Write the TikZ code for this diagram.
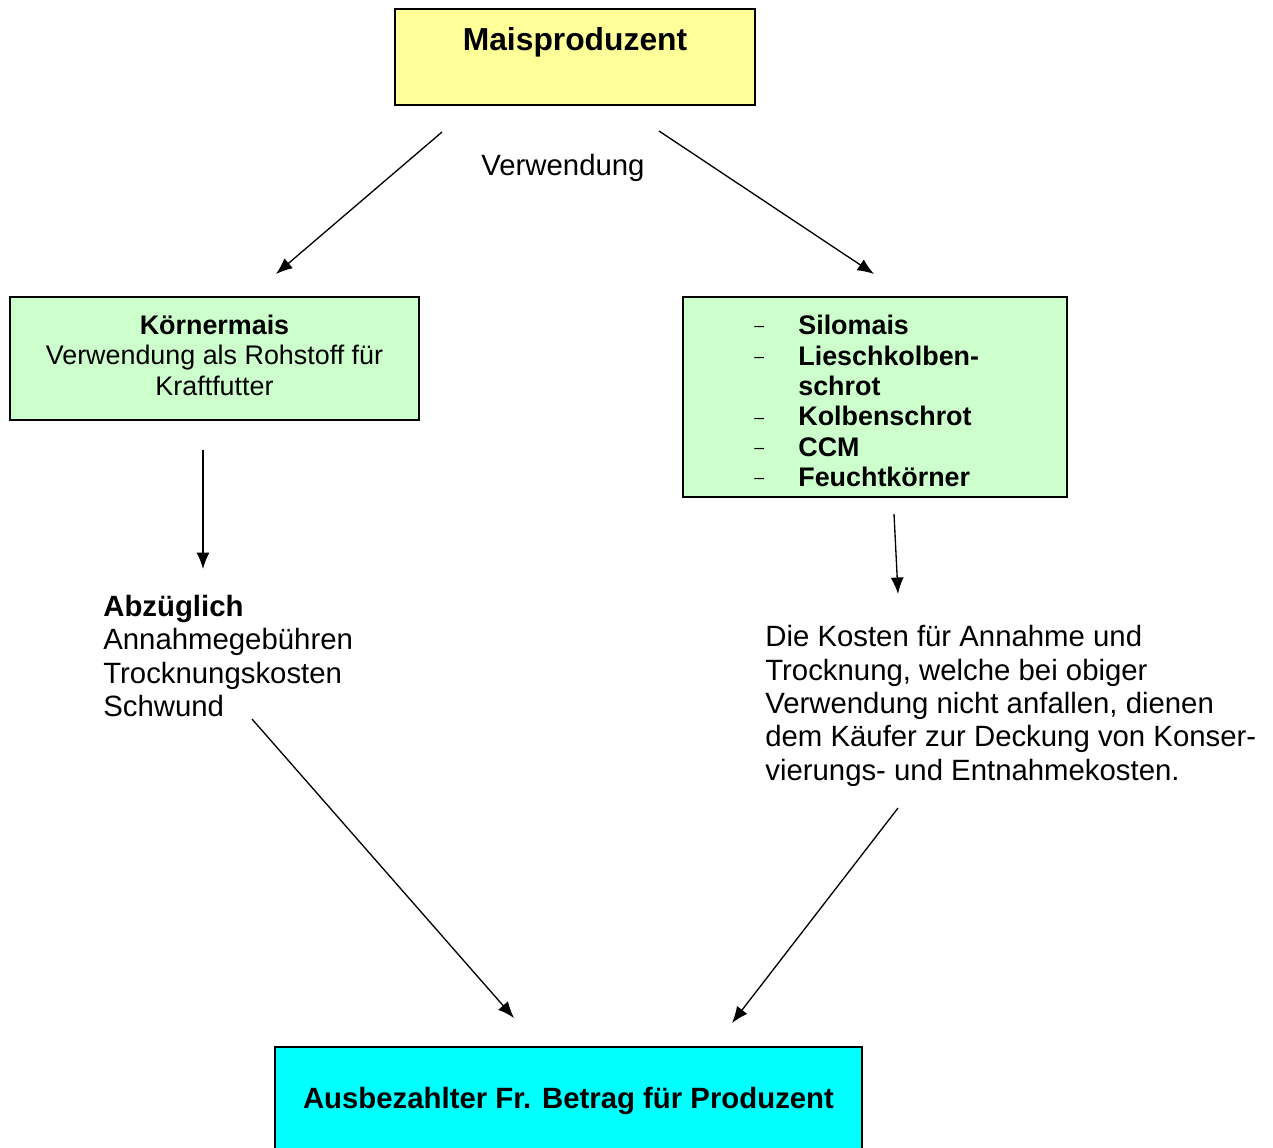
\documentclass[tikz,border=0pt]{standalone}
\usepackage{fontspec}
\setmainfont{Liberation Sans}
\usetikzlibrary{shapes,arrows.meta,positioning}

\definecolor{maisgelb}{HTML}{FFFF99}
\definecolor{maisgruen}{HTML}{CCFFCC}
\definecolor{maiscyan}{HTML}{00FFFF}

\newcommand{\strich}{\makebox[0.88cm][l]{\raisebox{1.5pt}{\mdseries\fontsize{10}{10}\selectfont –}}}

\tikzset{
    box/.style={draw, line width=1.1pt, inner sep=0pt, align=center},
    boxtxt/.style={inner sep=0pt, align=center, font=\fontsize{15.3}{17.3}\selectfont},
    txt/.style={inner sep=0pt, align=left, font=\fontsize{16.7}{19}\selectfont},
    pfeil/.style={-{Latex[length=3.3mm,width=2.6mm]}, line width=0.75pt},
}

\begin{document}
\begin{tikzpicture}[x=0.02cm, y=-0.02cm]
    \clip (0,0) rectangle (1273,1147);

    \node [box, fill=maisgelb, minimum width=7.2cm, minimum height=1.92cm] (prod) at (575,57) {};
    \node [txt, anchor=base, font=\fontsize{18.1}{20}\selectfont\bfseries] (prodtext) at (575,50) {Maisproduzent};
    \node [txt, anchor=base] (verw) at (563,175) {Verwendung};

    \node [box, fill=maisgruen, minimum width=8.18cm, minimum height=2.46cm] (koerner) at (214.5,358.5) {};
    \node [boxtxt] (koernertext) at (214.5,355)
        {\textbf{Körnermais}\\Verwendung als Rohstoff für\\Kraftfutter};

    \node [box, fill=maisgruen, minimum width=7.68cm, minimum height=4cm] (silo) at (875,397) {};
    \node [boxtxt, anchor=west, align=left, font=\fontsize{15.3}{17.3}\selectfont\bfseries] (silolist) at (754,401)
        {\strich Silomais\\\strich Lieschkolben-\\\makebox[0.88cm]{}schrot\\\strich Kolbenschrot\\\strich CCM\\\strich Feuchtkörner};

    \node [txt, anchor=west] (abzug) at (103,656)
        {\textbf{Abzüglich}\\Annahmegebühren\\Trocknungskosten\\Schwund};
    \node [txt, anchor=west] (kosten) at (765,706)
        {Die Kosten für Annahme und\\Trocknung, welche bei obiger\\Verwendung nicht anfallen, dienen\\dem Käufer zur Deckung von Konser-\\vierungs- und Entnahmekosten.};

    \node [box, fill=maiscyan, minimum width=11.74cm, minimum height=2.08cm] (betrag) at (568.5,1099) {};
    \node [txt, anchor=base, font=\fontsize{16.7}{19}\selectfont\bfseries] (betragtext) at (568.5,1108)
        {Ausbezahlter Fr. Betrag für Produzent};

    \coordinate (prodL) at (442,132);
    \coordinate (prodR) at (659,131);
    \coordinate (koernerT) at (276,274);
    \coordinate (siloT) at (874,274);
    \coordinate (koernerB) at (203,450);
    \coordinate (abzugT) at (203,569);
    \coordinate (siloB) at (894,514);
    \coordinate (kostenT) at (898,594);
    \coordinate (abzugB) at (252,719);
    \coordinate (betragL) at (514,1018);
    \coordinate (kostenB) at (898,808);
    \coordinate (betragR) at (732,1023);

    \path[pfeil] (prodL) edge (koernerT);
    \path[pfeil] (prodR) edge (siloT);
    \path[pfeil] (koernerB) edge (abzugT);
    \path[pfeil] (siloB) edge (kostenT);
    \path[pfeil] (abzugB) edge (betragL);
    \path[pfeil] (kostenB) edge (betragR);
\end{tikzpicture}
\end{document}
